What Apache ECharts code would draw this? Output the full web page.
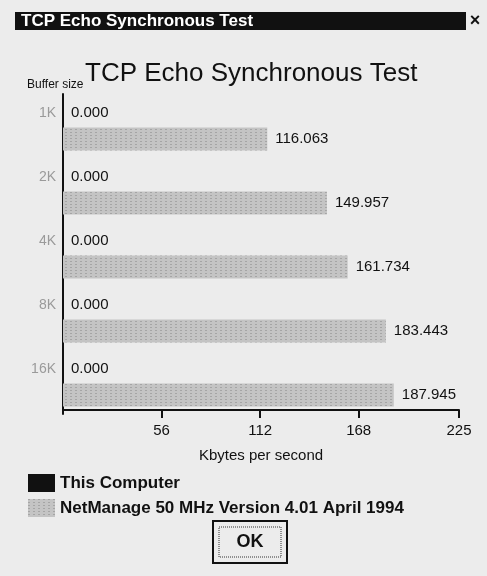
<!DOCTYPE html>
<html>
<head>
<meta charset="utf-8">
<script src="https://cdn.jsdelivr.net/npm/echarts@6/dist/echarts.min.js"></script>
<style>
html,body{margin:0;padding:0;background:#ececec;}
#c{width:487px;height:576px;}
</style>
</head>
<body>
<div id="c"></div>
<script>
const categories = ['1K', '2K', '4K', '8K', '16K'];
const seriesNames = ['This Computer', 'NetManage 50 MHz Version 4.01 April 1994'];
const thisComputer = [0, 0, 0, 0, 0];
const netManage = [116.063, 149.957, 161.734, 183.443, 187.945];
const xTicks = [56, 112, 168, 225];

const FONT = '"Liberation Sans", Arial, sans-serif';
const chart = echarts.init(document.getElementById('c'), null, {renderer: 'canvas'});
const lbl = {
  show: true, position: 'right', distance: 8,
  fontFamily: FONT, fontSize: 15, color: '#111',
  formatter: p => p.value.toFixed(3)
};
chart.setOption({
  backgroundColor: '#ececec',
  animation: false,
  title: [
    {text: 'TCP Echo Synchronous Test', left: 80, top: 56,
     textStyle: {fontFamily: FONT, fontSize: 26, fontWeight: 'normal', color: '#111'}},
    {text: 'Buffer size', left: 22, top: 74,
     textStyle: {fontFamily: FONT, fontSize: 12, fontWeight: 'normal', color: '#111'}}
  ],
  grid: {left: 63, right: 28, top: 94, bottom: 162, containLabel: false},
  legend: {
    orient: 'vertical', left: 23, top: 469,
    itemWidth: 27, itemHeight: 18, itemGap: 7,
    icon: 'rect',
    textStyle: {fontFamily: FONT, fontSize: 17, fontWeight: 'bold', color: '#111'},
    data: seriesNames
  },
  xAxis: {
    type: 'value', min: 0, max: 225, offset: -4,
    name: 'Kbytes per second', nameLocation: 'middle', nameGap: 38,
    nameTextStyle: {fontFamily: FONT, fontSize: 15, color: '#111'},
    axisLine: {show: true, lineStyle: {color: '#111', width: 2}},
    axisTick: {show: true, customValues: xTicks, length: 8, lineStyle: {color: '#111', width: 2}},
    axisLabel: {customValues: xTicks, margin: 13, fontFamily: FONT, fontSize: 15, color: '#111'},
    splitLine: {show: false}
  },
  yAxis: {
    type: 'category', data: categories, inverse: true,
    axisLine: {show: true, lineStyle: {color: '#111', width: 2}},
    axisTick: {show: false},
    axisLabel: {margin: 7, fontFamily: FONT, fontSize: 14, color: '#9a9a9a',
                lineHeight: 26, formatter: v => v + '\n '},
    splitLine: {show: false}
  },
  series: [
    {name: seriesNames[0], type: 'bar', data: thisComputer, barWidth: 23, barGap: '13%',
     itemStyle: {color: '#111'}, label: lbl},
    {name: seriesNames[1], type: 'bar', data: netManage, barWidth: 23, barGap: '13%',
     itemStyle: {color: '#c4c4c4',
       decal: {symbol: 'rect', symbolSize: 1, color: 'rgba(110,110,110,0.35)',
               dashArrayX: [2, 3], dashArrayY: [1, 2], rotation: 0}},
     label: lbl}
  ],
  graphic: [
    {type: 'rect', shape: {x: 15, y: 12, width: 451, height: 18}, style: {fill: '#111'}, silent: true},
    {type: 'text', x: 21, y: 21, style: {text: 'TCP Echo Synchronous Test', fill: '#fff',
      font: 'bold 17px ' + FONT, textVerticalAlign: 'middle'}},
    {type: 'text', x: 475, y: 21, style: {text: '×', fill: '#111',
      font: 'bold 18px ' + FONT, textAlign: 'center', textVerticalAlign: 'middle'}},
    {type: 'rect', shape: {x: 213, y: 521, width: 74, height: 42},
      style: {fill: '#ececec', stroke: '#111', lineWidth: 2}},
    {type: 'rect', shape: {x: 219, y: 527, width: 62, height: 30},
      style: {fill: 'none', stroke: '#333', lineWidth: 1, lineDash: [1, 1]}},
    {type: 'text', x: 250, y: 542, style: {text: 'OK', fill: '#111',
      font: 'bold 18px ' + FONT, textAlign: 'center', textVerticalAlign: 'middle'}}
  ]
});
</script>
</body>
</html>
